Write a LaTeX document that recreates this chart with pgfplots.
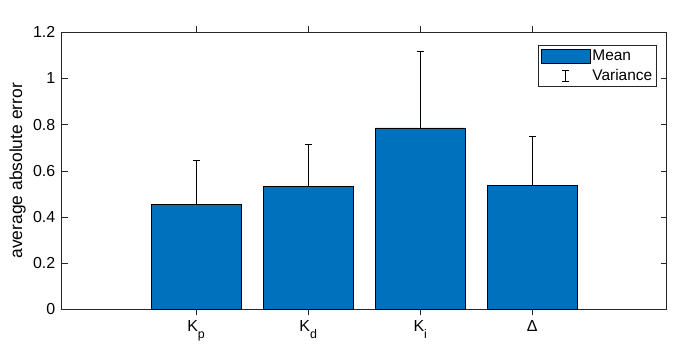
\documentclass[border=0pt]{standalone}
\usepackage{fontspec}
\setmainfont{Liberation Sans}
\usepackage{pgfplots}
\pgfplotsset{compat=1.18}
\definecolor{matblue}{RGB}{0,114,189}
\definecolor{axgray}{RGB}{38,38,38}
\newcommand{\sub}[1]{\raisebox{-6.5bp}{\fontsize{12.5}{12.5}\selectfont #1}}

\begin{document}
\begin{tikzpicture}
\begin{axis}[
  scale only axis, width=605bp, height=277bp,
  xmin=-0.2, xmax=5.2, ymin=0, ymax=1.2,
  xtick={1,2,3,4},
  xticklabels={K\sub{p},K\sub{d},K\sub{i},Δ},
  ytick={0,0.2,0.4,0.6,0.8,1,1.2},
  tick align=inside,
  major tick length=6bp,
  axis line style={draw=axgray, line width=0.6bp},
  tick style={draw=axgray, line width=0.6bp},
  ticklabel style={font=\fontsize{16}{18}\selectfont, text=black},
  xticklabel style={yshift=-2bp},
  yticklabel style={xshift=-3bp},
  /pgf/number format/assume math mode=true,
  ylabel={average absolute error},
  ylabel style={font=\fontsize{17.5}{19}\selectfont, at={(axis description cs:-0.0727,0.5)},
                anchor=center},
  ybar, bar width=0.8,
  legend style={at={(0.984,0.954)}, anchor=north east, draw=axgray, line width=0.6bp,
                font=\fontsize{15.5}{17}\selectfont, cells={anchor=west},
                inner sep=2.5bp, row sep=3.5bp},
]
\addplot[fill=matblue, draw=black, line width=0.6bp,
  legend image code/.code={\draw[fill=matblue, draw=black, line width=0.6bp]
     (0bp,-7bp) rectangle (49bp,7bp);},
  error bars/y dir=plus, error bars/y explicit,
  error bars/error bar style={black, line width=0.6bp},
  error bars/error mark options={rotate=90, mark size=3.5bp, black, line width=0.6bp}]
  coordinates {
  (1,0.455) +- (0,0.189)
  (2,0.533) +- (0,0.183)
  (3,0.786) +- (0,0.330)
  (4,0.538) +- (0,0.212)
};
\addlegendentry{Mean}
\addlegendimage{legend image code/.code={
  \path[draw=none, fill=none] (0bp,0bp) -- (49bp,0bp);
  \draw[black, line width=0.6bp] (24.5bp,-5.5bp) -- (24.5bp,5.5bp)
     (21bp,-5.5bp) -- (28bp,-5.5bp) (21bp,5.5bp) -- (28bp,5.5bp);}}
\addlegendentry{Variance}
\coordinate (sw) at (rel axis cs:0,0);
\coordinate (ne) at (rel axis cs:1,1);
\end{axis}
\pgfresetboundingbox
\useasboundingbox ([xshift=-61.7bp,yshift=-37.7bp]sw) rectangle ([xshift=9.3bp,yshift=32.3bp]ne);
\end{tikzpicture}
\end{document}
